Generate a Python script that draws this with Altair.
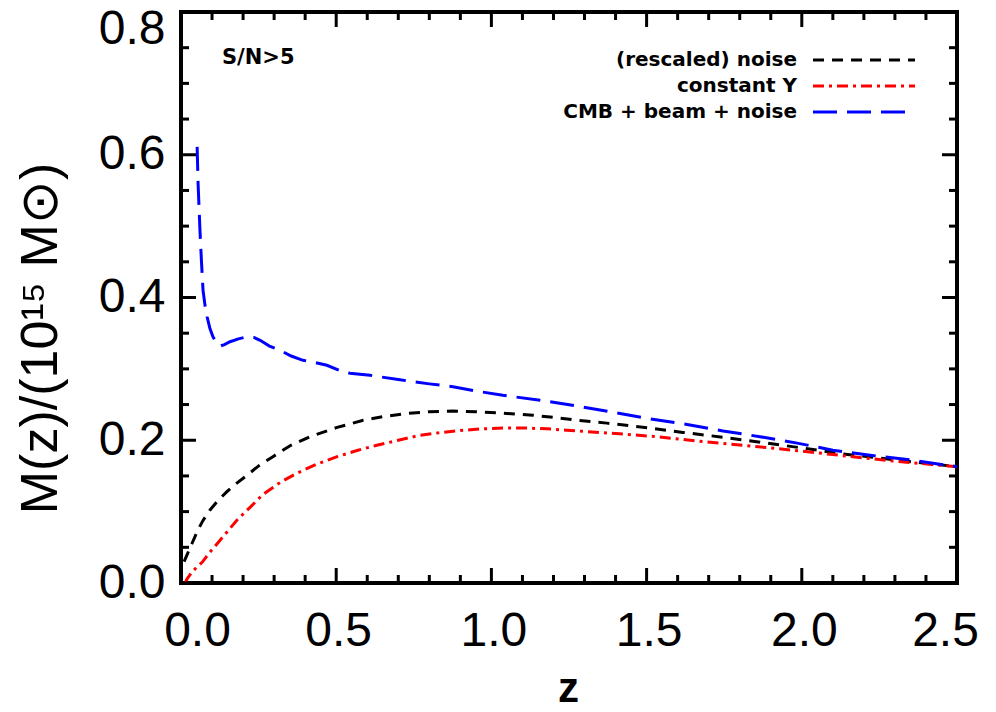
import altair as alt
import pandas as pd
import numpy as np

# ---------------- data ----------------
z_noise = [0.01, 0.02, 0.035, 0.052, 0.07, 0.093, 0.12, 0.148, 0.18, 0.213, 0.25, 0.296,
           0.35, 0.416, 0.503, 0.587, 0.65, 0.716, 0.8, 0.876, 0.95, 1.037, 1.134, 1.2,
           1.276, 1.372, 1.511, 1.617, 1.75, 1.888, 2.004, 2.13, 2.25, 2.37, 2.5]
m_noise = [0.030, 0.040, 0.055, 0.072, 0.087, 0.102, 0.116, 0.128, 0.140, 0.151, 0.164, 0.177,
           0.192, 0.205, 0.218, 0.228, 0.233, 0.237, 0.240, 0.241, 0.240, 0.238, 0.235, 0.232,
           0.228, 0.224, 0.217, 0.211, 0.204, 0.196, 0.189, 0.181, 0.175, 0.169, 0.163]

z_consty = [0.013, 0.02, 0.035, 0.05, 0.068, 0.093, 0.126, 0.18, 0.22, 0.264, 0.32, 0.374,
            0.44, 0.503, 0.57, 0.631, 0.7, 0.77, 0.84, 0.909, 0.97, 1.037, 1.115, 1.18,
            1.243, 1.382, 1.533, 1.662, 1.81, 1.995, 2.12, 2.27, 2.42, 2.5]
m_consty = [0.0, 0.006, 0.015, 0.022, 0.029, 0.043, 0.060, 0.088, 0.105, 0.124, 0.141, 0.154,
            0.167, 0.177, 0.186, 0.193, 0.200, 0.207, 0.211, 0.214, 0.216, 0.217, 0.217, 0.216,
            0.214, 0.210, 0.205, 0.199, 0.193, 0.185, 0.179, 0.172, 0.166, 0.163]

z_cmb = [0.052, 0.055, 0.061, 0.066, 0.071, 0.077, 0.084, 0.093, 0.103, 0.115, 0.126, 0.14,
         0.158, 0.185, 0.213, 0.235, 0.255, 0.285, 0.319, 0.355, 0.393, 0.43, 0.47, 0.51,
         0.544, 0.609, 0.7, 0.8, 0.876, 0.95, 1.037, 1.157, 1.276, 1.382, 1.511, 1.617,
         1.746, 1.865, 1.985, 2.10, 2.22, 2.34, 2.5]
m_cmb = [0.611, 0.56, 0.495, 0.45, 0.41, 0.39, 0.373, 0.357, 0.345, 0.336, 0.332, 0.334,
         0.338, 0.342, 0.345, 0.344, 0.340, 0.332, 0.326, 0.318, 0.312, 0.309, 0.305, 0.298,
         0.294, 0.291, 0.285, 0.279, 0.275, 0.269, 0.263, 0.256, 0.248, 0.240, 0.230, 0.223,
         0.213, 0.205, 0.196, 0.186, 0.179, 0.173, 0.163]

legend_labels = ["(rescaled) noise", "constant Y", "CMB + beam + noise"]
x_tick_labels = [0.0, 0.5, 1.0, 1.5, 2.0, 2.5]
y_tick_labels = [0.0, 0.2, 0.4, 0.6, 0.8]
annotation = "S/N>5"

# ---------------- layout / style ----------------
W, H = 776, 571
FONT = "Liberation Sans, Arial, sans-serif"
BFONT = "DejaVu Sans, sans-serif"
colors = ["#000000", "#ff0000", "#0000ff"]
dashes = [[11, 8], [11, 5, 3, 5], [24, 10]]

xs = alt.Scale(domain=[0, 2.5], nice=False, zero=False)
ys = alt.Scale(domain=[0, 0.8], nice=False, zero=False)

x_axis = alt.Axis(
    values=x_tick_labels, format=".1f", tickSize=0, domain=False, grid=False,
    labelFont=FONT, labelFontSize=48, labelColor="black", labelPadding=24,
    labelFlush=False, labelOverlap=False,
    labelOffset={"condition": [{"test": "datum.value <= 0.01", "value": 16},
                               {"test": "datum.value >= 2.49", "value": -12}],
                 "value": 2},
    title="z", titleFont=FONT, titleFontSize=42, titleFontWeight="bold",
    titleColor="black", titleX=387, titleY=105, titleBaseline="middle",
    titleAlign="center",
)
y_axis = alt.Axis(
    values=y_tick_labels, format=".1f", tickSize=0, domain=False, grid=False,
    labelFont=FONT, labelFontSize=48, labelColor="black", labelPadding=16,
    labelFlush=False, labelOverlap=False, labelBaseline="middle",
    labelOffset={"condition": {"test": "datum.value >= 0.79", "value": 17},
                 "value": 0},
    title="M(z)/(10¹⁵ M⊙)", titleFont=FONT, titleFontSize=52,
    titleFontWeight="normal", titleColor="black", titleAngle=-90,
    titleX=-141, titleY=326, titleAlign="center", titleBaseline="middle",
)


def X(field):
    return alt.X(f"{field}:Q", scale=xs, axis=x_axis)


def Y(field):
    return alt.Y(f"{field}:Q", scale=ys, axis=y_axis)


layers = []
series = [(z_noise, m_noise), (z_consty, m_consty), (z_cmb, m_cmb)]
for (zz, mm), c, d in zip(series, colors, dashes):
    df = pd.DataFrame({"z": zz, "m": mm})
    layers.append(
        alt.Chart(df).mark_line(color=c, strokeWidth=3, strokeDash=d, clip=True)
        .encode(x=X("z"), y=Y("m"), order="z:Q")
    )

# ---- inward ticks on all four sides (IDL style) ----
x_all = np.round(np.arange(0, 2.5001, 0.1), 2)
y_all = np.round(np.arange(0, 0.8001, 0.05), 3)
x_major = [v for v in x_all if abs(v / 0.5 - round(v / 0.5)) < 1e-6]
x_minor = [v for v in x_all if v not in x_major]
y_major = [v for v in y_all if abs(v / 0.2 - round(v / 0.2)) < 1e-6]
y_minor = [v for v in y_all if v not in y_major]

for vals, ln in [(x_major, 15), (x_minor, 8)]:
    d = pd.DataFrame({"tx": vals})
    layers.append(alt.Chart(d).mark_rule(color="black", strokeWidth=3)
                  .encode(x=X("tx"), y=alt.value(H), y2=alt.value(H - ln)))
    layers.append(alt.Chart(d).mark_rule(color="black", strokeWidth=3)
                  .encode(x=X("tx"), y=alt.value(0), y2=alt.value(ln)))
for vals, ln in [(y_major, 15), (y_minor, 8)]:
    d = pd.DataFrame({"ty": vals})
    layers.append(alt.Chart(d).mark_rule(color="black", strokeWidth=3)
                  .encode(y=Y("ty"), x=alt.value(0), x2=alt.value(ln)))
    layers.append(alt.Chart(d).mark_rule(color="black", strokeWidth=3)
                  .encode(y=Y("ty"), x=alt.value(W), x2=alt.value(W - ln)))

# ---- annotation ----
layers.append(
    alt.Chart(pd.DataFrame({"t": [annotation]}))
    .mark_text(align="left", baseline="middle", font=BFONT, fontSize=21,
               fontWeight="bold", color="black")
    .encode(text="t:N", x=alt.value(41), y=alt.value(46))
)

# ---- manual legend: label on the left, line sample on the right ----
row_y = [48, 74, 100]
for lab, c, d, yy in zip(legend_labels, colors, dashes, row_y):
    ldf = pd.DataFrame({"t": [lab]})
    layers.append(
        alt.Chart(ldf).mark_text(align="right", baseline="middle", font=BFONT,
                                 fontSize=20, fontWeight="bold", color="black")
        .encode(text="t:N", x=alt.value(616), y=alt.value(yy))
    )
    layers.append(
        alt.Chart(ldf).mark_rule(color=c, strokeWidth=3, strokeDash=d)
        .encode(x=alt.value(632), x2=alt.value(734), y=alt.value(yy))
    )

chart = alt.layer(*layers).properties(
    width=W, height=H,
    autosize=alt.AutoSizeParams(type="none"),
    padding={"left": 181, "top": 12, "right": 39, "bottom": 129},
    background="white",
).configure_view(stroke="black", strokeWidth=4)

chart.save("out.html", embed_options={"renderer": "svg", "actions": False})
